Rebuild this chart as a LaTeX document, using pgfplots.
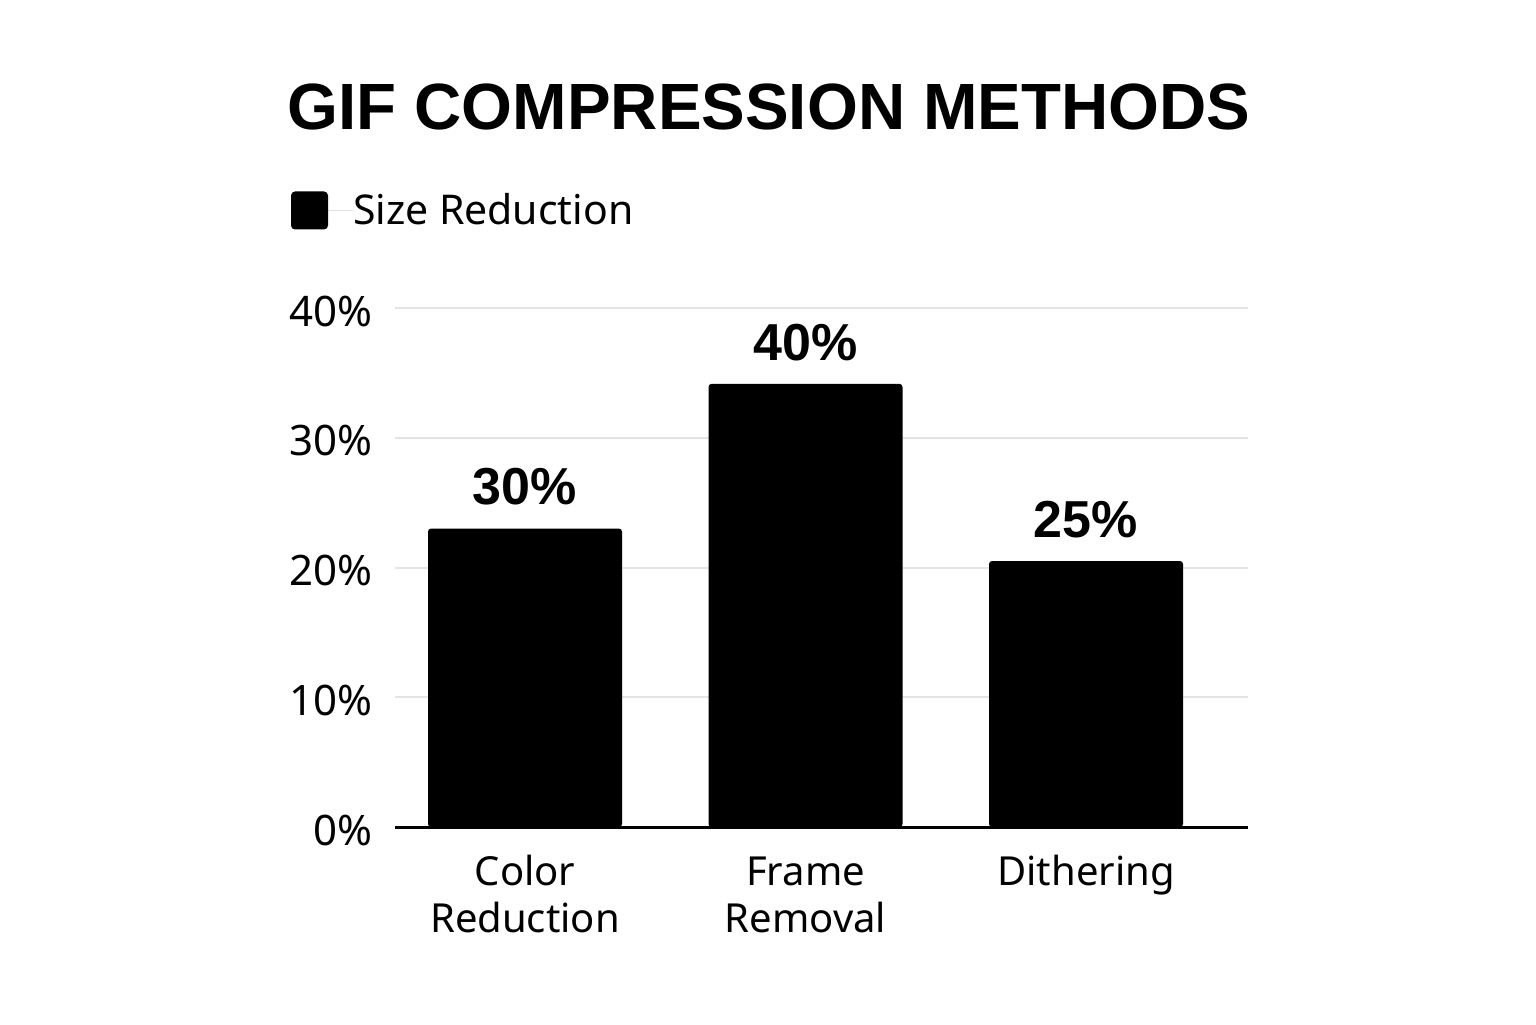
\documentclass[border=0pt]{standalone}
\usepackage{fontspec}
\setmainfont{Noto Sans}
\newfontfamily\boldsans{Liberation Sans}
\usepackage{pgfplots}
\pgfplotsset{compat=1.18}
\definecolor{gridgray}{RGB}{228,228,228}
\begin{document}
\begin{tikzpicture}
\path[use as bounding box] (0,0) rectangle (768pt,512pt);
\node[font=\boldsans\fontsize{32.7}{40}\selectfont\bfseries, anchor=base, inner sep=0pt] at (384.5pt,447pt) {GIF COMPRESSION METHODS};
\begin{axis}[
  at={(197.5pt,98.5pt)}, anchor=south west,
  scale only axis, width=426.5pt, height=259.5pt,
  xmin=-0.4635, xmax=2.5775, ymin=0, ymax=40,
  axis lines*=left,
  y axis line style={draw=none},
  x axis line style={line width=1.5pt, black},
  major tick length=0pt,
  ytick={0,10,20,30,40},
  yticklabel={\pgfmathprintnumber{\tick}\%},
  /pgf/number format/assume math mode=true,
  yticklabel style={font=\fontsize{21}{25}\selectfont, anchor=east, inner sep=0pt, xshift=-11pt, yshift=-1.5pt},
  xtick={0,1,2},
  xticklabels={{Color\\Reduction},{Frame\vphantom{l}\\Removal},{Dithering}},
  xticklabel style={font=\fontsize{20}{23.5}\selectfont, align=center, anchor=north, inner sep=0pt, yshift=-14pt},
  ymajorgrids,
  major grid style={line width=1pt, gridgray},
  ybar, bar width=97pt,
  nodes near coords,
  point meta=explicit symbolic,
  every node near coord/.append style={font=\boldsans\fontsize{26}{30}\selectfont\bfseries, anchor=south, inner sep=0pt, yshift=11.5pt},
  legend style={at={(-0.1219,1.1879)}, anchor=west, draw=none, fill=none, inner sep=0pt, outer sep=0pt,
    nodes={inner sep=0pt, font=\fontsize{20.5}{24}\selectfont}},
  legend image code/.code={\fill[black, rounded corners=2pt] (0pt,-9.5pt) rectangle (18.5pt,9.5pt); \path (0pt,0pt) -- (31pt,0pt);},
]
\addplot[fill=black, draw=none, rounded corners=1.5pt] coordinates {
  (0,23.0) [30\%]
  (1,34.15) [40\%]
  (2,20.5) [25\%]
};
\addlegendentry{Size Reduction}
\end{axis}
\end{tikzpicture}
\end{document}
